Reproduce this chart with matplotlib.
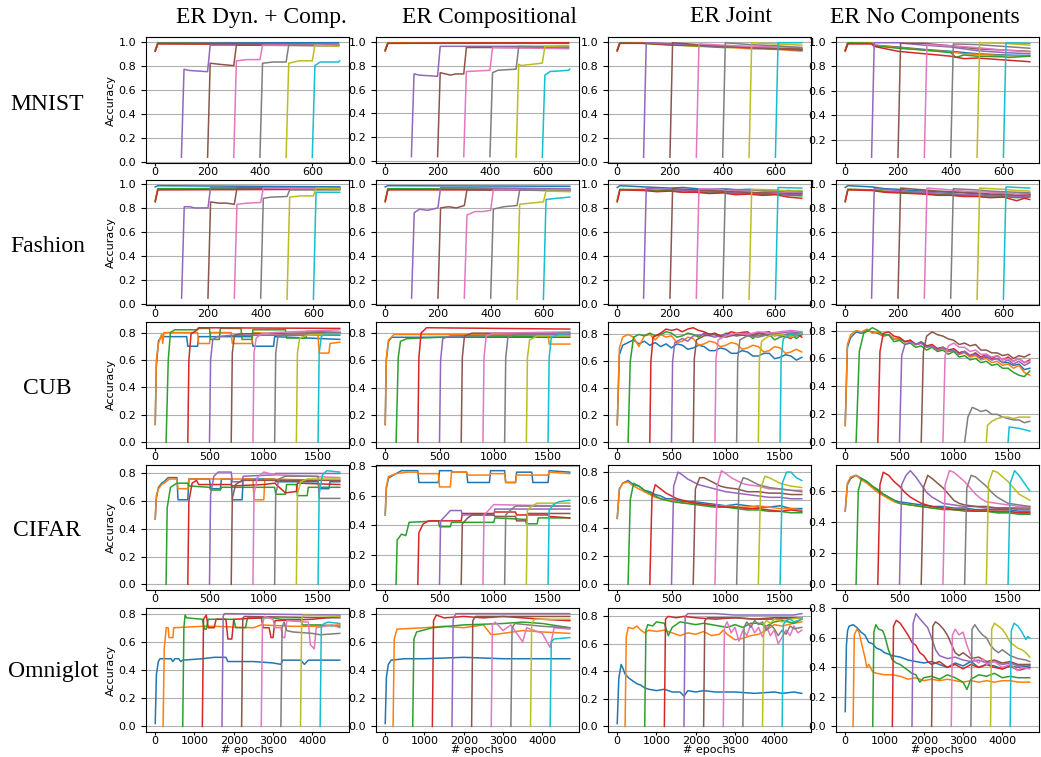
import matplotlib
matplotlib.use("Agg")
import matplotlib.pyplot as plt
from matplotlib.ticker import MultipleLocator

# column / row names
methods = ["ER Dyn. + Comp.", "ER Compositional", "ER Joint", "ER No Components"]
datasets = ["MNIST", "Fashion", "CUB", "CIFAR", "Omniglot"]
x_tick_step = [200, 200, 500, 500, 1000]

# each curve = list of (epoch, accuracy) points, one curve per task (C0..C9)
MNIST_DYN = [
    [(0, 0.93), (10, 0.99), (700, 0.99)],
    [(0, 0.92), (10, 0.985), (700, 0.98)],
    [(0, 0.92), (10, 0.985), (700, 0.975)],
    [(0, 0.92), (10, 0.98), (700, 0.975)],
    [(100, 0.04), (110, 0.77), (130, 0.76), (200, 0.75), (210, 0.97), (700, 0.97)],
    [(200, 0.04), (210, 0.82), (250, 0.81), (300, 0.80), (310, 0.97), (700, 0.965)],
    [(300, 0.04), (310, 0.84), (350, 0.85), (400, 0.85), (410, 0.97), (700, 0.97)],
    [(400, 0.04), (410, 0.82), (450, 0.83), (500, 0.83), (510, 0.97), (700, 0.965)],
    [(500, 0.04), (510, 0.82), (550, 0.84), (600, 0.84), (610, 0.97), (700, 0.96)],
    [(600, 0.04), (610, 0.80), (630, 0.83), (700, 0.83), (705, 0.84)],
]
MNIST_COMP = [
    [(0, 0.93), (10, 0.99), (700, 0.99)],
    [(0, 0.93), (10, 0.99), (700, 0.985)],
    [(0, 0.93), (10, 0.985), (700, 0.985)],
    [(0, 0.92), (10, 0.985), (700, 0.99)],
    [(100, 0.04), (110, 0.73), (130, 0.72), (200, 0.71), (210, 0.96), (700, 0.96)],
    [(200, 0.04), (210, 0.74), (230, 0.73), (250, 0.72), (270, 0.73), (300, 0.73), (310, 0.95), (700, 0.95)],
    [(300, 0.04), (310, 0.75), (400, 0.76), (410, 0.95), (700, 0.94)],
    [(400, 0.04), (410, 0.74), (430, 0.76), (500, 0.77), (510, 0.96), (700, 0.95)],
    [(500, 0.035), (510, 0.81), (520, 0.80), (560, 0.81), (600, 0.82), (610, 0.96), (700, 0.965)],
    [(600, 0.035), (610, 0.72), (630, 0.75), (700, 0.76), (705, 0.77)],
]
MNIST_JOINT = [
    [(0, 0.93), (10, 0.99), (100, 0.99), (200, 0.98), (300, 0.97), (400, 0.96), (500, 0.95), (600, 0.94), (700, 0.93)],
    [(0, 0.93), (10, 0.99), (100, 0.99), (200, 0.975), (300, 0.96), (400, 0.955), (500, 0.94), (600, 0.935), (700, 0.92)],
    [(0, 0.93), (10, 0.99), (100, 0.985), (200, 0.97), (300, 0.965), (400, 0.95), (500, 0.955), (600, 0.945), (700, 0.94)],
    [(0, 0.92), (10, 0.985), (100, 0.985), (200, 0.975), (300, 0.97), (400, 0.96), (500, 0.95), (600, 0.94), (700, 0.935)],
    [(100, 0.04), (110, 0.99), (200, 0.98), (300, 0.97), (400, 0.955), (500, 0.95), (600, 0.94), (700, 0.93)],
    [(200, 0.04), (210, 0.99), (300, 0.975), (400, 0.96), (500, 0.95), (600, 0.94), (700, 0.93)],
    [(300, 0.04), (310, 0.98), (400, 0.97), (500, 0.96), (600, 0.955), (700, 0.95)],
    [(400, 0.04), (410, 0.99), (500, 0.975), (600, 0.965), (700, 0.95)],
    [(500, 0.04), (510, 0.99), (600, 0.98), (700, 0.97)],
    [(600, 0.04), (610, 0.99), (700, 0.99)],
]
MNIST_NOCOMP = [
    [(0, 0.93), (10, 0.99), (100, 0.99), (110, 0.97), (200, 0.955), (300, 0.935), (400, 0.92), (450, 0.91), (500, 0.90), (600, 0.89), (700, 0.885)],
    [(0, 0.93), (10, 0.99), (100, 0.99), (110, 0.97), (200, 0.95), (300, 0.93), (400, 0.915), (450, 0.90), (500, 0.895), (600, 0.885), (700, 0.88)],
    [(0, 0.93), (10, 0.99), (100, 0.985), (110, 0.965), (200, 0.945), (300, 0.93), (400, 0.91), (420, 0.87), (450, 0.89), (500, 0.88), (600, 0.875), (620, 0.87), (700, 0.88)],
    [(0, 0.92), (10, 0.98), (100, 0.98), (110, 0.96), (200, 0.92), (300, 0.90), (400, 0.88), (450, 0.86), (500, 0.865), (600, 0.85), (700, 0.835)],
    [(100, 0.055), (110, 0.99), (200, 0.99), (300, 0.97), (400, 0.955), (500, 0.925), (600, 0.91), (700, 0.90)],
    [(200, 0.055), (210, 0.985), (300, 0.985), (400, 0.965), (500, 0.94), (600, 0.93), (700, 0.92)],
    [(300, 0.055), (310, 0.975), (400, 0.965), (500, 0.95), (600, 0.93), (700, 0.915)],
    [(400, 0.055), (410, 0.98), (500, 0.975), (600, 0.96), (700, 0.945)],
    [(500, 0.055), (510, 0.99), (600, 0.985), (700, 0.97)],
    [(600, 0.055), (610, 0.99), (700, 0.985)],
]

FASHION_DYN = [
    [(0, 0.975), (10, 0.985), (700, 0.975)],
    [(0, 0.86), (10, 0.955), (700, 0.96)],
    [(0, 0.86), (10, 0.96), (700, 0.965)],
    [(0, 0.85), (10, 0.95), (700, 0.955)],
    [(100, 0.05), (110, 0.81), (130, 0.81), (150, 0.80), (200, 0.80), (210, 0.97), (700, 0.965)],
    [(200, 0.05), (210, 0.85), (240, 0.84), (270, 0.84), (300, 0.83), (310, 0.965), (700, 0.96)],
    [(300, 0.05), (310, 0.83), (350, 0.84), (400, 0.845), (410, 0.965), (700, 0.96)],
    [(400, 0.05), (410, 0.88), (440, 0.89), (500, 0.895), (510, 0.95), (700, 0.95)],
    [(500, 0.04), (510, 0.89), (550, 0.90), (600, 0.90), (610, 0.965), (700, 0.96)],
    [(600, 0.04), (610, 0.93), (700, 0.93)],
]
FASHION_COMP = [
    [(0, 0.975), (10, 0.985), (700, 0.98)],
    [(0, 0.86), (10, 0.955), (700, 0.96)],
    [(0, 0.86), (10, 0.96), (700, 0.955)],
    [(0, 0.85), (10, 0.95), (700, 0.95)],
    [(100, 0.05), (110, 0.76), (130, 0.79), (160, 0.78), (200, 0.80), (210, 0.97), (700, 0.96)],
    [(200, 0.05), (210, 0.80), (240, 0.81), (270, 0.80), (300, 0.82), (310, 0.95), (700, 0.945)],
    [(300, 0.05), (310, 0.74), (340, 0.77), (370, 0.77), (400, 0.78), (410, 0.95), (700, 0.95)],
    [(400, 0.05), (410, 0.79), (450, 0.81), (500, 0.82), (510, 0.95), (700, 0.94)],
    [(500, 0.04), (510, 0.83), (550, 0.84), (600, 0.85), (610, 0.94), (700, 0.935)],
    [(600, 0.04), (610, 0.87), (650, 0.88), (700, 0.89)],
]
FASHION_JOINT = [
    [(0, 0.97), (10, 0.985), (100, 0.975), (150, 0.97), (200, 0.965), (250, 0.97), (300, 0.96), (350, 0.955), (400, 0.96), (450, 0.95), (500, 0.955), (550, 0.945), (600, 0.94), (650, 0.945), (700, 0.935)],
    [(0, 0.86), (10, 0.95), (100, 0.955), (150, 0.945), (200, 0.95), (250, 0.94), (300, 0.94), (350, 0.93), (400, 0.935), (450, 0.925), (500, 0.93), (550, 0.92), (600, 0.925), (650, 0.91), (700, 0.91)],
    [(0, 0.86), (10, 0.955), (100, 0.95), (150, 0.94), (200, 0.945), (250, 0.93), (300, 0.935), (350, 0.925), (400, 0.93), (450, 0.92), (500, 0.92), (550, 0.91), (600, 0.915), (650, 0.905), (700, 0.90)],
    [(0, 0.85), (10, 0.95), (100, 0.945), (150, 0.935), (200, 0.94), (250, 0.93), (300, 0.93), (350, 0.92), (400, 0.925), (450, 0.91), (500, 0.915), (550, 0.905), (600, 0.91), (650, 0.89), (700, 0.88)],
    [(100, 0.05), (110, 0.96), (200, 0.955), (250, 0.945), (300, 0.95), (350, 0.935), (400, 0.94), (450, 0.925), (500, 0.93), (550, 0.92), (600, 0.925), (650, 0.91), (700, 0.915)],
    [(200, 0.05), (210, 0.96), (300, 0.95), (350, 0.945), (400, 0.94), (450, 0.935), (500, 0.93), (550, 0.925), (600, 0.93), (650, 0.92), (700, 0.92)],
    [(300, 0.05), (310, 0.96), (400, 0.955), (450, 0.945), (500, 0.95), (550, 0.94), (600, 0.935), (650, 0.93), (700, 0.93)],
    [(400, 0.05), (410, 0.955), (500, 0.95), (550, 0.945), (600, 0.94), (650, 0.935), (700, 0.935)],
    [(500, 0.04), (510, 0.955), (600, 0.95), (650, 0.94), (700, 0.945)],
    [(600, 0.04), (610, 0.97), (700, 0.965)],
]
FASHION_NOCOMP = [
    [(0, 0.97), (10, 0.985), (100, 0.975), (150, 0.96), (200, 0.955), (250, 0.945), (300, 0.94), (350, 0.935), (400, 0.93), (450, 0.925), (500, 0.92), (550, 0.91), (600, 0.915), (650, 0.905), (700, 0.91)],
    [(0, 0.86), (10, 0.955), (100, 0.95), (150, 0.94), (200, 0.935), (250, 0.93), (300, 0.925), (350, 0.915), (400, 0.915), (450, 0.905), (500, 0.905), (550, 0.895), (600, 0.90), (650, 0.89), (700, 0.895)],
    [(0, 0.86), (10, 0.955), (100, 0.95), (150, 0.935), (200, 0.93), (250, 0.925), (300, 0.92), (350, 0.91), (400, 0.91), (450, 0.90), (500, 0.90), (550, 0.89), (600, 0.895), (650, 0.885), (700, 0.89)],
    [(0, 0.85), (10, 0.95), (100, 0.945), (150, 0.93), (200, 0.925), (250, 0.92), (300, 0.915), (350, 0.905), (400, 0.905), (450, 0.895), (500, 0.895), (550, 0.885), (600, 0.89), (650, 0.86), (680, 0.88), (700, 0.87)],
    [(100, 0.05), (110, 0.96), (200, 0.945), (250, 0.935), (300, 0.93), (350, 0.925), (400, 0.92), (450, 0.91), (500, 0.91), (550, 0.90), (600, 0.905), (650, 0.895), (700, 0.90)],
    [(200, 0.05), (210, 0.965), (300, 0.95), (350, 0.94), (400, 0.935), (450, 0.93), (500, 0.925), (550, 0.915), (600, 0.915), (650, 0.905), (700, 0.91)],
    [(300, 0.05), (310, 0.965), (400, 0.95), (450, 0.94), (500, 0.935), (550, 0.93), (600, 0.925), (650, 0.915), (700, 0.92)],
    [(400, 0.05), (410, 0.96), (500, 0.95), (550, 0.94), (600, 0.935), (650, 0.93), (700, 0.925)],
    [(500, 0.04), (510, 0.965), (600, 0.955), (650, 0.945), (700, 0.94)],
    [(600, 0.04), (610, 0.975), (700, 0.965)],
]

CUB_DYN = [
    [(0, 0.13), (10, 0.55), (30, 0.74), (60, 0.77), (290, 0.77), (300, 0.70), (390, 0.70), (400, 0.77), (890, 0.77), (900, 0.70), (1090, 0.70), (1100, 0.77), (1700, 0.75)],
    [(0, 0.13), (10, 0.60), (30, 0.72), (50, 0.77), (60, 0.79), (70, 0.72), (80, 0.80), (390, 0.80), (400, 0.72), (500, 0.72), (510, 0.80), (700, 0.80), (710, 0.72), (890, 0.72), (900, 0.80), (1100, 0.79), (1500, 0.78), (1510, 0.65), (1600, 0.65), (1610, 0.72), (1700, 0.73)],
    [(100, 0.0), (120, 0.60), (140, 0.80), (180, 0.82), (390, 0.82), (400, 0.83), (500, 0.83), (510, 0.75), (590, 0.75), (600, 0.83), (790, 0.83), (800, 0.75), (890, 0.75), (900, 0.82), (1200, 0.82), (1210, 0.76), (1390, 0.76), (1400, 0.81), (1700, 0.80)],
    [(300, 0.0), (310, 0.60), (330, 0.79), (370, 0.81), (400, 0.835), (1700, 0.83)],
    [(500, 0.0), (510, 0.60), (530, 0.75), (570, 0.77), (700, 0.78), (1700, 0.78)],
    [(700, 0.0), (710, 0.65), (730, 0.78), (780, 0.79), (1700, 0.80)],
    [(900, 0.0), (910, 0.65), (930, 0.76), (980, 0.79), (1100, 0.80), (1700, 0.82)],
    [(1100, 0.0), (1110, 0.65), (1130, 0.77), (1200, 0.79), (1700, 0.80)],
    [(1300, 0.0), (1310, 0.65), (1330, 0.76), (1400, 0.78), (1700, 0.79)],
    [(1500, 0.0), (1510, 0.65), (1530, 0.77), (1560, 0.79), (1700, 0.79)],
]
CUB_COMP = [
    [(0, 0.13), (10, 0.6), (30, 0.74), (60, 0.77), (1700, 0.77)],
    [(0, 0.13), (10, 0.62), (30, 0.75), (80, 0.79), (1500, 0.79), (1510, 0.72), (1700, 0.72)],
    [(100, 0.0), (120, 0.62), (140, 0.74), (200, 0.76), (500, 0.77), (1700, 0.78)],
    [(300, 0.0), (310, 0.62), (330, 0.80), (380, 0.84), (1700, 0.83)],
    [(500, 0.0), (510, 0.60), (530, 0.76), (600, 0.78), (1700, 0.79)],
    [(700, 0.0), (710, 0.62), (730, 0.78), (800, 0.80), (1700, 0.80)],
    [(900, 0.0), (910, 0.62), (930, 0.78), (1000, 0.80), (1700, 0.81)],
    [(1100, 0.0), (1110, 0.62), (1130, 0.77), (1200, 0.79), (1700, 0.80)],
    [(1300, 0.0), (1310, 0.62), (1330, 0.75), (1400, 0.78), (1700, 0.78)],
    [(1500, 0.0), (1510, 0.62), (1530, 0.77), (1600, 0.79), (1700, 0.80)],
]
CUB_JOINT = [
    [(0, 0.13), (20, 0.65), (50, 0.72), (100, 0.74), (150, 0.76), (200, 0.73), (250, 0.75), (300, 0.72), (350, 0.74), (400, 0.71), (450, 0.73), (500, 0.70), (550, 0.73), (600, 0.72), (650, 0.69), (700, 0.70), (750, 0.72), (800, 0.71), (850, 0.68), (900, 0.68), (950, 0.70), (1000, 0.69), (1050, 0.66), (1100, 0.66), (1150, 0.68), (1200, 0.67), (1250, 0.64), (1300, 0.64), (1350, 0.66), (1400, 0.66), (1450, 0.62), (1500, 0.63), (1550, 0.65), (1600, 0.64), (1650, 0.61), (1700, 0.63)],
    [(0, 0.13), (20, 0.70), (50, 0.78), (100, 0.80), (150, 0.78), (200, 0.71), (250, 0.79), (300, 0.80), (350, 0.76), (400, 0.80), (450, 0.78), (500, 0.79), (550, 0.74), (600, 0.75), (650, 0.78), (700, 0.77), (750, 0.72), (800, 0.73), (850, 0.75), (900, 0.74), (950, 0.71), (1000, 0.72), (1050, 0.74), (1100, 0.73), (1150, 0.69), (1200, 0.70), (1250, 0.72), (1300, 0.71), (1350, 0.67), (1400, 0.68), (1450, 0.71), (1500, 0.70), (1550, 0.66), (1600, 0.67), (1650, 0.69), (1700, 0.67)],
    [(100, 0.0), (120, 0.60), (150, 0.78), (200, 0.80), (250, 0.79), (300, 0.81), (350, 0.79), (400, 0.80), (450, 0.82), (500, 0.81), (550, 0.78), (600, 0.79), (650, 0.81), (700, 0.80), (750, 0.78), (800, 0.81), (900, 0.80), (950, 0.78), (1000, 0.81), (1100, 0.79), (1200, 0.80), (1250, 0.77), (1300, 0.81), (1400, 0.80), (1450, 0.76), (1500, 0.78), (1600, 0.80), (1650, 0.77), (1700, 0.80)],
    [(300, 0.0), (310, 0.60), (330, 0.78), (400, 0.81), (450, 0.84), (500, 0.83), (550, 0.84), (600, 0.82), (650, 0.84), (700, 0.85), (750, 0.83), (800, 0.82), (850, 0.80), (900, 0.81), (950, 0.79), (1000, 0.80), (1050, 0.82), (1100, 0.81), (1200, 0.82), (1250, 0.79), (1300, 0.81), (1400, 0.82), (1450, 0.79), (1500, 0.80), (1600, 0.77), (1650, 0.81), (1700, 0.78)],
    [(500, 0.0), (510, 0.60), (530, 0.74), (600, 0.77), (650, 0.75), (700, 0.79), (800, 0.80), (900, 0.78), (1000, 0.80), (1100, 0.79), (1200, 0.81), (1300, 0.79), (1400, 0.80), (1500, 0.81), (1600, 0.82), (1700, 0.81)],
    [(700, 0.0), (710, 0.62), (730, 0.76), (800, 0.79), (900, 0.80), (1000, 0.78), (1100, 0.80), (1200, 0.79), (1300, 0.81), (1400, 0.79), (1500, 0.80), (1600, 0.78), (1700, 0.80)],
    [(900, 0.0), (910, 0.62), (930, 0.76), (1000, 0.79), (1100, 0.81), (1200, 0.80), (1300, 0.82), (1400, 0.81), (1500, 0.82), (1600, 0.83), (1700, 0.82)],
    [(1100, 0.0), (1110, 0.62), (1130, 0.76), (1200, 0.79), (1300, 0.78), (1400, 0.80), (1500, 0.79), (1600, 0.81), (1700, 0.80)],
    [(1300, 0.0), (1310, 0.62), (1330, 0.75), (1400, 0.79), (1500, 0.80), (1600, 0.78), (1700, 0.81)],
    [(1500, 0.0), (1510, 0.62), (1530, 0.77), (1600, 0.80), (1650, 0.79), (1700, 0.82)],
]
CUB_NOCOMP = [
    [(0, 0.12), (20, 0.68), (50, 0.75), (100, 0.79), (150, 0.78), (200, 0.80), (250, 0.79), (300, 0.78), (350, 0.76), (400, 0.77), (450, 0.74), (500, 0.74), (550, 0.72), (600, 0.73), (650, 0.70), (700, 0.72), (750, 0.69), (800, 0.69), (850, 0.67), (900, 0.68), (950, 0.65), (1000, 0.66), (1050, 0.64), (1100, 0.65), (1150, 0.62), (1200, 0.63), (1250, 0.60), (1300, 0.61), (1350, 0.59), (1400, 0.60), (1450, 0.57), (1500, 0.57), (1550, 0.55), (1600, 0.56), (1650, 0.52), (1700, 0.53)],
    [(0, 0.12), (20, 0.70), (50, 0.77), (100, 0.80), (150, 0.79), (200, 0.81), (250, 0.78), (300, 0.79), (350, 0.76), (400, 0.77), (450, 0.74), (500, 0.75), (550, 0.72), (600, 0.73), (650, 0.70), (700, 0.71), (750, 0.68), (800, 0.69), (850, 0.66), (900, 0.67), (950, 0.65), (1000, 0.66), (1050, 0.63), (1100, 0.64), (1150, 0.61), (1200, 0.62), (1250, 0.59), (1300, 0.60), (1350, 0.57), (1400, 0.58), (1450, 0.55), (1500, 0.56), (1550, 0.53), (1600, 0.55), (1650, 0.50), (1700, 0.48)],
    [(100, 0.0), (130, 0.65), (170, 0.78), (250, 0.82), (300, 0.80), (350, 0.77), (400, 0.77), (450, 0.72), (500, 0.73), (550, 0.70), (600, 0.71), (650, 0.68), (700, 0.69), (750, 0.66), (800, 0.68), (850, 0.65), (900, 0.66), (950, 0.63), (1000, 0.65), (1050, 0.61), (1100, 0.62), (1150, 0.59), (1200, 0.60), (1250, 0.57), (1300, 0.58), (1350, 0.55), (1400, 0.56), (1450, 0.53), (1500, 0.53), (1550, 0.50), (1600, 0.48), (1650, 0.47), (1700, 0.51)],
    [(300, 0.0), (320, 0.65), (350, 0.78), (400, 0.79), (450, 0.76), (500, 0.75), (550, 0.72), (600, 0.73), (650, 0.70), (700, 0.71), (750, 0.69), (800, 0.70), (850, 0.67), (900, 0.68), (950, 0.66), (1000, 0.67), (1050, 0.64), (1100, 0.65), (1150, 0.62), (1200, 0.64), (1250, 0.61), (1300, 0.63), (1350, 0.60), (1400, 0.62), (1450, 0.59), (1500, 0.61), (1550, 0.58), (1600, 0.60), (1650, 0.57), (1700, 0.59)],
    [(500, 0.0), (520, 0.62), (550, 0.70), (600, 0.72), (650, 0.70), (700, 0.71), (750, 0.68), (800, 0.69), (850, 0.66), (900, 0.68), (950, 0.65), (1000, 0.66), (1050, 0.63), (1100, 0.65), (1150, 0.62), (1200, 0.63), (1250, 0.60), (1300, 0.62), (1350, 0.59), (1400, 0.60), (1450, 0.57), (1500, 0.59), (1550, 0.56), (1600, 0.58), (1650, 0.55), (1700, 0.57)],
    [(700, 0.0), (720, 0.65), (750, 0.76), (800, 0.79), (850, 0.77), (900, 0.76), (950, 0.74), (1000, 0.73), (1050, 0.70), (1100, 0.71), (1150, 0.69), (1200, 0.70), (1250, 0.66), (1300, 0.66), (1350, 0.64), (1400, 0.64), (1450, 0.62), (1500, 0.63), (1550, 0.60), (1600, 0.62), (1650, 0.61), (1700, 0.63)],
    [(900, 0.0), (920, 0.62), (950, 0.69), (1000, 0.71), (1050, 0.68), (1100, 0.68), (1150, 0.65), (1200, 0.66), (1250, 0.63), (1300, 0.63), (1350, 0.61), (1400, 0.62), (1450, 0.59), (1500, 0.60), (1550, 0.58), (1600, 0.60), (1650, 0.57), (1700, 0.58)],
    [(1100, 0.0), (1130, 0.18), (1170, 0.25), (1200, 0.24), (1250, 0.22), (1300, 0.23), (1350, 0.20), (1400, 0.20), (1450, 0.18), (1500, 0.17), (1550, 0.16), (1600, 0.16), (1650, 0.14), (1700, 0.15)],
    [(1300, 0.0), (1310, 0.12), (1350, 0.15), (1400, 0.17), (1450, 0.18), (1500, 0.18), (1550, 0.17), (1600, 0.18), (1700, 0.18)],
    [(1500, 0.0), (1510, 0.11), (1600, 0.10), (1700, 0.08)],
]

CIFAR_DYN = [
    [(0, 0.47), (10, 0.62), (30, 0.70), (60, 0.73), (80, 0.74), (120, 0.77), (200, 0.77), (210, 0.61), (300, 0.61), (310, 0.76), (500, 0.76), (510, 0.69), (600, 0.69), (610, 0.76), (700, 0.76), (710, 0.61), (800, 0.61), (810, 0.76), (1100, 0.76), (1110, 0.74), (1500, 0.74), (1510, 0.69), (1600, 0.69), (1610, 0.74), (1700, 0.74)],
    [(0, 0.47), (10, 0.64), (30, 0.69), (60, 0.72), (100, 0.74), (130, 0.76), (200, 0.76), (210, 0.69), (300, 0.69), (310, 0.76), (900, 0.76), (910, 0.61), (1000, 0.61), (1010, 0.76), (1700, 0.75)],
    [(100, 0.0), (110, 0.55), (140, 0.70), (200, 0.73), (300, 0.73), (310, 0.71), (500, 0.70), (510, 0.68), (600, 0.68), (610, 0.70), (1100, 0.70), (1110, 0.65), (1200, 0.65), (1210, 0.72), (1300, 0.72), (1310, 0.64), (1400, 0.64), (1410, 0.70), (1700, 0.70)],
    [(300, 0.0), (310, 0.60), (340, 0.73), (380, 0.75), (400, 0.72), (700, 0.72), (710, 0.71), (1000, 0.72), (1100, 0.73), (1200, 0.66), (1300, 0.67), (1310, 0.73), (1700, 0.72)],
    [(500, 0.0), (510, 0.65), (540, 0.78), (580, 0.81), (700, 0.81), (710, 0.74), (800, 0.74), (810, 0.78), (1100, 0.79), (1110, 0.80), (1700, 0.80)],
    [(700, 0.0), (710, 0.62), (740, 0.72), (800, 0.75), (1700, 0.75)],
    [(900, 0.0), (910, 0.65), (940, 0.77), (1000, 0.81), (1100, 0.79), (1700, 0.77)],
    [(1100, 0.0), (1110, 0.65), (1140, 0.76), (1200, 0.78), (1500, 0.78), (1510, 0.62), (1700, 0.62)],
    [(1300, 0.0), (1310, 0.65), (1340, 0.74), (1400, 0.76), (1700, 0.76)],
    [(1500, 0.0), (1510, 0.65), (1540, 0.79), (1580, 0.82), (1700, 0.81)],
]
CIFAR_COMP = [
    [(0, 0.47), (10, 0.65), (30, 0.72), (100, 0.75), (150, 0.77), (300, 0.77), (310, 0.69), (490, 0.69), (500, 0.77), (610, 0.77), (620, 0.76), (750, 0.76), (760, 0.69), (960, 0.69), (970, 0.77), (1100, 0.77), (1110, 0.69), (1200, 0.69), (1210, 0.76), (1350, 0.76), (1360, 0.69), (1500, 0.69), (1510, 0.77), (1700, 0.76)],
    [(0, 0.47), (10, 0.66), (30, 0.73), (100, 0.75), (200, 0.76), (300, 0.76), (310, 0.75), (490, 0.75), (500, 0.66), (600, 0.66), (610, 0.76), (750, 0.76), (760, 0.74), (960, 0.74), (970, 0.75), (1100, 0.75), (1110, 0.69), (1200, 0.69), (1210, 0.74), (1500, 0.74), (1510, 0.76), (1700, 0.75)],
    [(100, 0.0), (110, 0.30), (130, 0.32), (150, 0.34), (190, 0.33), (220, 0.42), (490, 0.43), (500, 0.39), (600, 0.39), (610, 0.42), (1000, 0.42), (1010, 0.45), (1290, 0.44), (1300, 0.41), (1400, 0.41), (1410, 0.45), (1700, 0.45)],
    [(300, 0.0), (310, 0.35), (350, 0.41), (400, 0.43), (700, 0.43), (710, 0.48), (1000, 0.48), (1010, 0.49), (1200, 0.49), (1210, 0.47), (1500, 0.47), (1510, 0.46), (1700, 0.45)],
    [(500, 0.0), (510, 0.43), (550, 0.46), (600, 0.50), (700, 0.50), (710, 0.47), (1000, 0.47), (1010, 0.51), (1700, 0.51)],
    [(700, 0.0), (710, 0.41), (760, 0.45), (800, 0.47), (1000, 0.47), (1010, 0.46), (1200, 0.46), (1210, 0.43), (1300, 0.43), (1310, 0.48), (1700, 0.48)],
    [(900, 0.0), (910, 0.47), (950, 0.50), (1000, 0.54), (1700, 0.53)],
    [(1100, 0.0), (1110, 0.47), (1150, 0.50), (1200, 0.53), (1700, 0.53)],
    [(1300, 0.0), (1310, 0.50), (1350, 0.53), (1400, 0.55), (1700, 0.55)],
    [(1500, 0.0), (1510, 0.50), (1550, 0.54), (1600, 0.56), (1700, 0.57)],
]
CIFAR_JOINT = [
    [(0, 0.47), (20, 0.68), (50, 0.72), (100, 0.74), (150, 0.71), (200, 0.70), (250, 0.67), (300, 0.66), (350, 0.64), (400, 0.63), (450, 0.61), (500, 0.61), (600, 0.59), (700, 0.59), (800, 0.58), (900, 0.57), (1000, 0.56), (1100, 0.57), (1200, 0.56), (1300, 0.55), (1400, 0.55), (1500, 0.56), (1600, 0.54), (1700, 0.54)],
    [(0, 0.47), (20, 0.68), (50, 0.72), (100, 0.73), (150, 0.70), (200, 0.68), (250, 0.66), (300, 0.64), (350, 0.62), (400, 0.61), (450, 0.60), (500, 0.60), (600, 0.58), (700, 0.58), (800, 0.57), (900, 0.56), (1000, 0.56), (1100, 0.55), (1200, 0.55), (1300, 0.56), (1400, 0.55), (1500, 0.54), (1600, 0.54), (1700, 0.53)],
    [(100, 0.0), (120, 0.60), (150, 0.72), (200, 0.70), (250, 0.67), (300, 0.65), (350, 0.63), (400, 0.61), (500, 0.59), (600, 0.58), (700, 0.57), (800, 0.56), (900, 0.55), (1000, 0.55), (1100, 0.54), (1200, 0.53), (1300, 0.53), (1400, 0.52), (1500, 0.52), (1600, 0.51), (1700, 0.51)],
    [(300, 0.0), (320, 0.62), (350, 0.71), (400, 0.68), (450, 0.65), (500, 0.63), (550, 0.61), (600, 0.60), (700, 0.58), (800, 0.57), (900, 0.56), (1000, 0.55), (1100, 0.55), (1200, 0.54), (1300, 0.54), (1400, 0.53), (1500, 0.52), (1600, 0.53), (1700, 0.52)],
    [(500, 0.0), (520, 0.70), (560, 0.80), (600, 0.78), (650, 0.75), (700, 0.73), (750, 0.71), (800, 0.70), (900, 0.68), (1000, 0.66), (1100, 0.65), (1200, 0.64), (1300, 0.63), (1400, 0.62), (1500, 0.62), (1600, 0.61), (1700, 0.61)],
    [(700, 0.0), (720, 0.68), (760, 0.76), (800, 0.76), (850, 0.74), (900, 0.72), (950, 0.70), (1000, 0.69), (1100, 0.68), (1200, 0.66), (1300, 0.66), (1400, 0.65), (1500, 0.65), (1600, 0.64), (1700, 0.64)],
    [(900, 0.0), (920, 0.70), (960, 0.81), (1000, 0.79), (1050, 0.76), (1100, 0.74), (1150, 0.72), (1200, 0.71), (1300, 0.70), (1400, 0.68), (1500, 0.68), (1600, 0.67), (1700, 0.67)],
    [(1100, 0.0), (1120, 0.68), (1160, 0.76), (1200, 0.75), (1250, 0.73), (1300, 0.71), (1400, 0.69), (1500, 0.68), (1600, 0.67), (1700, 0.66)],
    [(1300, 0.0), (1320, 0.68), (1360, 0.77), (1400, 0.76), (1450, 0.74), (1500, 0.72), (1600, 0.70), (1700, 0.69)],
    [(1500, 0.0), (1520, 0.72), (1560, 0.80), (1600, 0.80), (1650, 0.76), (1700, 0.74)],
]
CIFAR_NOCOMP = [
    [(0, 0.47), (20, 0.64), (50, 0.68), (100, 0.70), (150, 0.68), (200, 0.66), (250, 0.63), (300, 0.60), (350, 0.58), (400, 0.56), (450, 0.54), (500, 0.53), (600, 0.52), (700, 0.51), (800, 0.50), (900, 0.50), (1000, 0.49), (1100, 0.49), (1200, 0.48), (1300, 0.48), (1400, 0.48), (1500, 0.48), (1600, 0.47), (1700, 0.47)],
    [(0, 0.47), (20, 0.65), (50, 0.69), (100, 0.70), (150, 0.67), (200, 0.65), (250, 0.62), (300, 0.59), (350, 0.57), (400, 0.55), (450, 0.53), (500, 0.52), (600, 0.51), (700, 0.50), (800, 0.49), (900, 0.49), (1000, 0.48), (1100, 0.48), (1200, 0.47), (1300, 0.47), (1400, 0.46), (1500, 0.46), (1600, 0.46), (1700, 0.45)],
    [(100, 0.0), (120, 0.60), (150, 0.68), (200, 0.66), (250, 0.63), (300, 0.61), (350, 0.58), (400, 0.56), (450, 0.54), (500, 0.52), (600, 0.51), (700, 0.50), (800, 0.49), (900, 0.48), (1000, 0.48), (1100, 0.47), (1200, 0.47), (1300, 0.47), (1400, 0.46), (1500, 0.46), (1600, 0.45), (1700, 0.45)],
    [(300, 0.0), (320, 0.64), (350, 0.72), (400, 0.70), (450, 0.66), (500, 0.63), (550, 0.59), (600, 0.56), (650, 0.54), (700, 0.52), (800, 0.50), (900, 0.49), (1000, 0.48), (1100, 0.48), (1200, 0.47), (1300, 0.47), (1400, 0.47), (1500, 0.47), (1600, 0.46), (1700, 0.46)],
    [(500, 0.0), (520, 0.64), (560, 0.70), (600, 0.73), (650, 0.69), (700, 0.64), (750, 0.59), (800, 0.56), (850, 0.54), (900, 0.52), (1000, 0.51), (1100, 0.50), (1200, 0.50), (1300, 0.49), (1400, 0.49), (1500, 0.49), (1600, 0.48), (1700, 0.48)],
    [(700, 0.0), (720, 0.62), (760, 0.70), (800, 0.68), (850, 0.65), (900, 0.62), (950, 0.58), (1000, 0.54), (1050, 0.52), (1100, 0.51), (1200, 0.50), (1300, 0.50), (1400, 0.49), (1500, 0.49), (1600, 0.49), (1700, 0.49)],
    [(900, 0.0), (920, 0.64), (960, 0.73), (1000, 0.72), (1050, 0.69), (1100, 0.66), (1150, 0.62), (1200, 0.58), (1250, 0.55), (1300, 0.53), (1400, 0.52), (1500, 0.51), (1600, 0.50), (1700, 0.50)],
    [(1100, 0.0), (1120, 0.62), (1160, 0.70), (1200, 0.69), (1250, 0.66), (1300, 0.63), (1350, 0.59), (1400, 0.56), (1450, 0.54), (1500, 0.52), (1600, 0.51), (1700, 0.50)],
    [(1300, 0.0), (1320, 0.65), (1360, 0.73), (1400, 0.72), (1450, 0.69), (1500, 0.66), (1550, 0.62), (1600, 0.58), (1650, 0.56), (1700, 0.54)],
    [(1500, 0.0), (1520, 0.65), (1560, 0.73), (1600, 0.70), (1650, 0.65), (1700, 0.60)],
]

OMNI_DYN = [
    [(0, 0.02), (30, 0.37), (80, 0.46), (120, 0.48), (400, 0.48), (450, 0.46), (500, 0.48), (600, 0.48), (650, 0.46), (700, 0.47), (1200, 0.48), (1500, 0.49), (1800, 0.49), (1850, 0.46), (2500, 0.46), (3000, 0.45), (3200, 0.44), (3250, 0.47), (3700, 0.47), (3800, 0.44), (3900, 0.47), (4700, 0.47)],
    [(200, 0.0), (230, 0.55), (280, 0.70), (330, 0.70), (350, 0.63), (450, 0.63), (470, 0.70), (1200, 0.71), (1500, 0.71), (2500, 0.70), (2700, 0.72), (3500, 0.71), (4000, 0.71), (4700, 0.72)],
    [(700, 0.0), (730, 0.70), (760, 0.79), (800, 0.77), (1200, 0.76), (1250, 0.69), (1300, 0.69), (1350, 0.76), (2000, 0.76), (2050, 0.70), (2300, 0.70), (2350, 0.77), (3000, 0.77), (3200, 0.76), (3700, 0.76), (3750, 0.72), (4200, 0.72), (4700, 0.71)],
    [(1200, 0.0), (1230, 0.76), (1300, 0.79), (1350, 0.70), (1500, 0.70), (1550, 0.76), (1800, 0.76), (1850, 0.62), (1950, 0.62), (2000, 0.76), (2700, 0.77), (2750, 0.70), (2900, 0.70), (2950, 0.63), (3000, 0.63), (3050, 0.75), (4000, 0.76), (4700, 0.78)],
    [(1700, 0.0), (1730, 0.78), (1760, 0.80), (4700, 0.79)],
    [(2200, 0.0), (2230, 0.77), (2280, 0.78), (4700, 0.77)],
    [(2700, 0.0), (2730, 0.72), (2780, 0.78), (3000, 0.76), (3050, 0.70), (3200, 0.70), (3250, 0.63), (3300, 0.63), (3350, 0.75), (3900, 0.74), (3950, 0.58), (4050, 0.55), (4100, 0.70), (4500, 0.72), (4700, 0.70)],
    [(3200, 0.0), (3230, 0.70), (3280, 0.74), (3350, 0.68), (3500, 0.67), (4000, 0.66), (4200, 0.65), (4700, 0.66)],
    [(3700, 0.0), (3730, 0.76), (3780, 0.79), (4700, 0.78)],
    [(4200, 0.0), (4230, 0.71), (4300, 0.73), (4400, 0.74), (4700, 0.73)],
]
OMNI_COMP = [
    [(0, 0.02), (30, 0.35), (80, 0.44), (150, 0.47), (500, 0.48), (1000, 0.48), (2000, 0.49), (3000, 0.48), (4700, 0.48)],
    [(200, 0.0), (230, 0.62), (300, 0.69), (1000, 0.70), (1500, 0.71), (2000, 0.70), (2500, 0.72), (2700, 0.65), (3000, 0.66), (3500, 0.68), (4000, 0.67), (4700, 0.66)],
    [(700, 0.0), (730, 0.62), (800, 0.67), (1200, 0.70), (2000, 0.72), (3000, 0.73), (3500, 0.74), (4000, 0.73), (4700, 0.70)],
    [(1200, 0.0), (1230, 0.75), (1300, 0.79), (1500, 0.77), (2000, 0.78), (2500, 0.77), (3000, 0.78), (3500, 0.77), (4000, 0.76), (4700, 0.75)],
    [(1700, 0.0), (1730, 0.76), (1800, 0.80), (4700, 0.80)],
    [(2200, 0.0), (2230, 0.75), (2300, 0.78), (4700, 0.78)],
    [(2700, 0.0), (2730, 0.72), (2800, 0.74), (3000, 0.68), (3200, 0.72), (3500, 0.60), (3600, 0.70), (4000, 0.66), (4200, 0.56), (4300, 0.70), (4700, 0.69)],
    [(3200, 0.0), (3230, 0.70), (3300, 0.73), (4000, 0.71), (4700, 0.70)],
    [(3700, 0.0), (3730, 0.73), (3800, 0.76), (4700, 0.76)],
    [(4200, 0.0), (4230, 0.60), (4300, 0.62), (4700, 0.63)],
]
OMNI_JOINT = [
    [(0, 0.02), (40, 0.35), (100, 0.45), (150, 0.42), (200, 0.38), (300, 0.35), (400, 0.33), (500, 0.31), (600, 0.30), (700, 0.28), (800, 0.27), (1000, 0.26), (1200, 0.27), (1400, 0.25), (1600, 0.25), (1700, 0.22), (1800, 0.26), (2000, 0.25), (2200, 0.26), (2500, 0.25), (3000, 0.25), (3500, 0.24), (4000, 0.25), (4200, 0.24), (4500, 0.25), (4700, 0.24)],
    [(200, 0.0), (230, 0.65), (280, 0.72), (400, 0.71), (500, 0.73), (600, 0.70), (700, 0.68), (800, 0.70), (1000, 0.69), (1200, 0.70), (1400, 0.68), (1600, 0.66), (1800, 0.68), (2000, 0.67), (2200, 0.69), (2400, 0.66), (2600, 0.67), (2700, 0.70), (2800, 0.67), (3000, 0.63), (3200, 0.64), (3400, 0.66), (3600, 0.67), (3800, 0.70), (4000, 0.74), (4200, 0.73), (4500, 0.75), (4700, 0.76)],
    [(700, 0.0), (730, 0.70), (780, 0.74), (900, 0.73), (1000, 0.76), (1200, 0.75), (1300, 0.66), (1400, 0.72), (1600, 0.76), (1800, 0.75), (2000, 0.74), (2200, 0.75), (2400, 0.74), (2600, 0.73), (2800, 0.72), (3000, 0.74), (3200, 0.72), (3400, 0.75), (3600, 0.75), (3800, 0.73), (4000, 0.76), (4200, 0.77), (4500, 0.75), (4700, 0.78)],
    [(1200, 0.0), (1230, 0.78), (1300, 0.80), (1500, 0.79), (1700, 0.80), (2000, 0.79), (2500, 0.78), (3000, 0.79), (3500, 0.78), (4000, 0.79), (4700, 0.79)],
    [(1700, 0.0), (1730, 0.80), (1800, 0.82), (2500, 0.82), (3000, 0.81), (3500, 0.81), (4000, 0.81), (4500, 0.81), (4700, 0.82)],
    [(2200, 0.0), (2230, 0.77), (2300, 0.79), (3000, 0.79), (3500, 0.78), (4000, 0.78), (4700, 0.79)],
    [(2700, 0.0), (2730, 0.72), (2800, 0.76), (2900, 0.68), (3000, 0.72), (3100, 0.62), (3200, 0.70), (3300, 0.66), (3400, 0.74), (3500, 0.68), (3600, 0.72), (3700, 0.65), (3800, 0.73), (3900, 0.66), (4000, 0.70), (4100, 0.60), (4200, 0.65), (4300, 0.70), (4400, 0.66), (4500, 0.73), (4600, 0.68), (4700, 0.70)],
    [(3200, 0.0), (3230, 0.72), (3300, 0.76), (3400, 0.72), (3500, 0.77), (3600, 0.74), (3700, 0.76), (3800, 0.70), (3900, 0.74), (4000, 0.71), (4100, 0.66), (4200, 0.70), (4300, 0.67), (4400, 0.73), (4500, 0.71), (4700, 0.72)],
    [(3700, 0.0), (3730, 0.74), (3800, 0.77), (3900, 0.75), (4000, 0.78), (4200, 0.76), (4400, 0.78), (4700, 0.79)],
    [(4200, 0.0), (4230, 0.74), (4300, 0.77), (4400, 0.78), (4500, 0.76), (4700, 0.78)],
]
OMNI_NOCOMP = [
    [(0, 0.10), (30, 0.55), (60, 0.65), (100, 0.68), (200, 0.69), (300, 0.67), (400, 0.64), (500, 0.62), (600, 0.57), (700, 0.56), (800, 0.53), (900, 0.52), (1000, 0.50), (1200, 0.48), (1400, 0.47), (1600, 0.45), (1800, 0.44), (2000, 0.43), (2200, 0.44), (2400, 0.42), (2600, 0.40), (2800, 0.43), (3000, 0.41), (3200, 0.44), (3400, 0.40), (3600, 0.42), (3800, 0.41), (4000, 0.39), (4200, 0.41), (4400, 0.40), (4700, 0.41)],
    [(200, 0.0), (230, 0.62), (300, 0.66), (350, 0.64), (400, 0.58), (500, 0.47), (550, 0.40), (600, 0.42), (700, 0.37), (800, 0.36), (1000, 0.35), (1200, 0.35), (1400, 0.34), (1600, 0.32), (1800, 0.33), (2000, 0.31), (2200, 0.32), (2400, 0.31), (2600, 0.32), (2800, 0.31), (3000, 0.30), (3200, 0.31), (3400, 0.30), (3600, 0.31), (3800, 0.30), (4000, 0.31), (4200, 0.31), (4400, 0.30), (4700, 0.30)],
    [(700, 0.0), (730, 0.64), (780, 0.69), (850, 0.66), (950, 0.65), (1000, 0.62), (1100, 0.52), (1200, 0.45), (1300, 0.43), (1400, 0.42), (1500, 0.40), (1600, 0.38), (1700, 0.36), (1800, 0.35), (1900, 0.30), (2000, 0.33), (2200, 0.34), (2400, 0.32), (2600, 0.35), (2800, 0.33), (3000, 0.30), (3100, 0.25), (3200, 0.32), (3400, 0.35), (3600, 0.34), (3800, 0.36), (4000, 0.33), (4200, 0.34), (4400, 0.33), (4700, 0.33)],
    [(1200, 0.0), (1230, 0.68), (1300, 0.72), (1400, 0.70), (1500, 0.66), (1600, 0.62), (1700, 0.57), (1800, 0.55), (1900, 0.50), (2000, 0.48), (2100, 0.44), (2200, 0.42), (2400, 0.44), (2600, 0.40), (2800, 0.42), (3000, 0.39), (3200, 0.42), (3400, 0.40), (3600, 0.42), (3800, 0.40), (4000, 0.39), (4200, 0.41), (4400, 0.38), (4700, 0.40)],
    [(1700, 0.0), (1730, 0.70), (1800, 0.765), (1900, 0.73), (2000, 0.70), (2100, 0.67), (2200, 0.60), (2300, 0.52), (2400, 0.48), (2600, 0.46), (2800, 0.47), (3000, 0.45), (3200, 0.44), (3400, 0.45), (3600, 0.43), (3800, 0.44), (4000, 0.42), (4200, 0.43), (4400, 0.41), (4700, 0.42)],
    [(2200, 0.0), (2230, 0.68), (2300, 0.71), (2400, 0.69), (2500, 0.66), (2600, 0.62), (2700, 0.56), (2800, 0.50), (2900, 0.48), (3000, 0.50), (3200, 0.46), (3400, 0.47), (3600, 0.44), (3800, 0.45), (4000, 0.43), (4200, 0.44), (4400, 0.42), (4700, 0.42)],
    [(2700, 0.0), (2730, 0.62), (2800, 0.66), (2900, 0.62), (3000, 0.64), (3100, 0.55), (3200, 0.48), (3300, 0.45), (3400, 0.43), (3500, 0.46), (3600, 0.42), (3800, 0.44), (4000, 0.40), (4200, 0.42), (4400, 0.38), (4500, 0.40), (4700, 0.39)],
    [(3200, 0.0), (3230, 0.66), (3300, 0.69), (3400, 0.65), (3500, 0.62), (3600, 0.60), (3700, 0.55), (3800, 0.52), (3900, 0.50), (4000, 0.52), (4200, 0.48), (4400, 0.46), (4600, 0.45), (4700, 0.44)],
    [(3700, 0.0), (3730, 0.66), (3800, 0.70), (3900, 0.68), (4000, 0.66), (4100, 0.62), (4200, 0.57), (4300, 0.55), (4400, 0.53), (4500, 0.52), (4600, 0.50), (4700, 0.47)],
    [(4200, 0.0), (4230, 0.65), (4300, 0.70), (4400, 0.68), (4500, 0.64), (4600, 0.59), (4650, 0.61), (4700, 0.60)],
]

panels = [
    [MNIST_DYN, MNIST_COMP, MNIST_JOINT, MNIST_NOCOMP],
    [FASHION_DYN, FASHION_COMP, FASHION_JOINT, FASHION_NOCOMP],
    [CUB_DYN, CUB_COMP, CUB_JOINT, CUB_NOCOMP],
    [CIFAR_DYN, CIFAR_COMP, CIFAR_JOINT, CIFAR_NOCOMP],
    [OMNI_DYN, OMNI_COMP, OMNI_JOINT, OMNI_NOCOMP],
]

W, H = 1041, 757
fig = plt.figure(figsize=(W / 100, H / 100), dpi=100)

col_left = [146, 376, 608, 836]
col_w = 203
row_span = [(37, 163), (180, 305), (322, 448), (465, 590), (608, 732)]
colors = plt.rcParams['axes.prop_cycle'].by_key()['color']

for r, row in enumerate(panels):
    top, bot = row_span[r]
    for c, curves in enumerate(row):
        ax = fig.add_axes([col_left[c] / W, 1 - bot / H, col_w / W, (bot - top) / H])
        for k, pts in enumerate(curves):
            xs = [p[0] for p in pts]
            ys = [p[1] for p in pts]
            ax.plot(xs, ys, color=colors[k % 10], lw=1.1)
        ax.yaxis.set_major_locator(MultipleLocator(0.2))
        ax.xaxis.set_major_locator(MultipleLocator(x_tick_step[r]))
        ax.grid(axis='y', color='#b0b0b0', lw=0.8)
        ax.set_axisbelow(True)
        ax.tick_params(axis='both', labelsize=8)
        ax.tick_params(axis='x', length=2, pad=1)
        if c == 0:
            ax.set_ylabel("Accuracy", fontsize=8, labelpad=2)
        if r == len(panels) - 1:
            ax.set_xlabel("# epochs", fontsize=8, labelpad=-1)

serif = "Liberation Serif"
title_x = [261, 489, 731, 925]
for name, x in zip(methods, title_x):
    fig.text(x / W, 1 - 17 / H, name, ha='center', va='center', fontsize=17, family=serif)

label_y = [104, 247, 389, 531, 672]
label_x = [47, 48, 47, 47, 53]
for name, x, y in zip(datasets, label_x, label_y):
    fig.text(x / W, 1 - y / H, name, ha='center', va='center', fontsize=17, family=serif)

fig.savefig("out.png", dpi=100)
